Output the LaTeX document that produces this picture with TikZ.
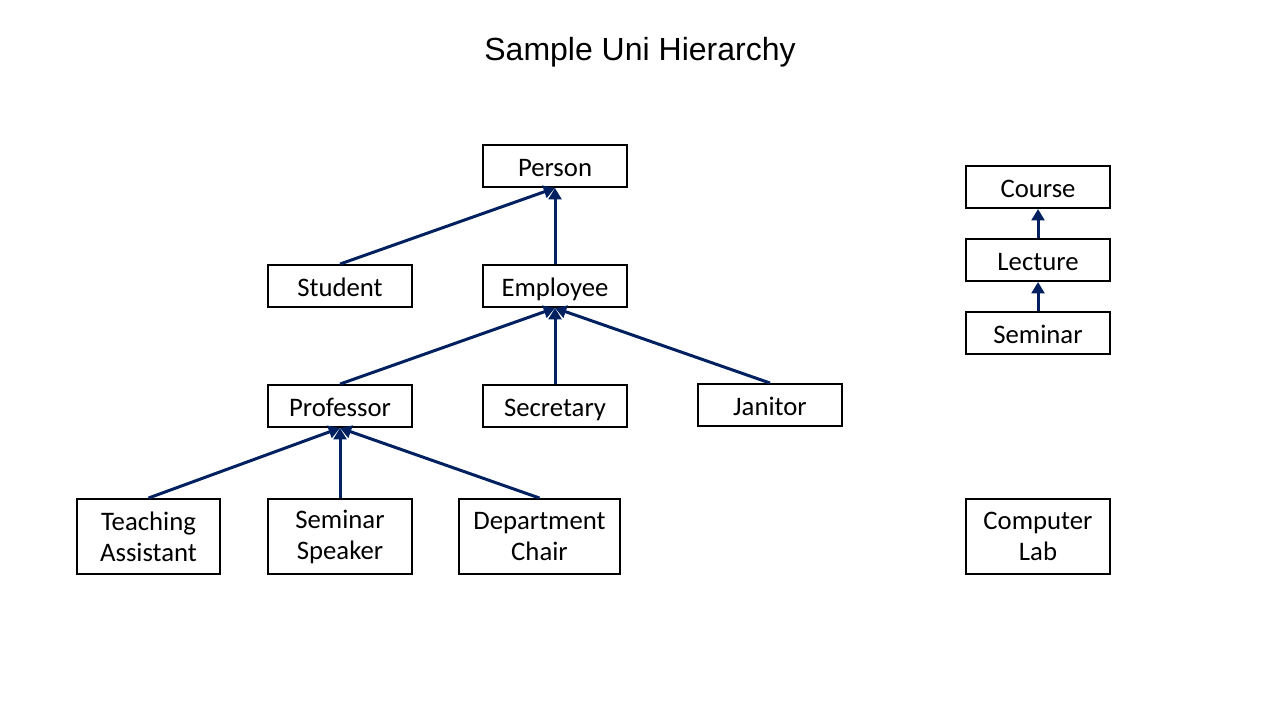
\documentclass[tikz,border=0pt]{standalone}
\usepackage{fontspec}
\setmainfont{Carlito}
\newfontfamily\titlefont{Liberation Sans}
\usetikzlibrary{arrows.meta,positioning}

\begin{document}
\begin{tikzpicture}[x=0.01cm, y=-0.01cm,
    every node/.style={font=\fontsize{7.6pt}{8.8pt}\selectfont},
    box/.style={draw, line width=0.55pt, minimum width=1.44cm, inner sep=0pt, align=center},
    cls/.style={box, minimum height=0.42cm, text height=1.5ex, text depth=0.3ex},
    tall/.style={box, minimum height=0.75cm},
    isa/.style={draw={rgb,255:red,0;green,32;blue,96}, line width=0.85pt, -{Triangle[length=3.2pt,width=3.6pt]}}]
  % Define dimensions
  \useasboundingbox (0,0) rectangle (1280,720);

  % Title
  \node (title) at (640,52) {\titlefont\fontsize{9.1pt}{11pt}\selectfont Sample Uni Hierarchy};

  % Draw classes
  \node[cls] (person) at (555,166) {Person};
  \node[cls] (student) at (340,286) {Student};
  \node[cls] (employee) at (555,286) {Employee};
  \node[cls] (professor) at (340,406) {Professor};
  \node[cls] (secretary) at (555,406) {Secretary};
  \node[cls] (janitor) at (770,405) {Janitor};
  \node[tall, minimum width=1.43cm] (ta) at (148.5,536.5) {Teaching\\Assistant};
  \node[tall] (speaker) at (340,536.5) {Seminar\\Speaker};
  \node[tall, minimum width=1.61cm] (chair) at (539.5,536.5) {Department\\Chair};

  \node[cls] (course) at (1038,187) {Course};
  \node[cls] (lecture) at (1038,260) {Lecture};
  \node[cls] (seminar) at (1038,333) {Seminar};
  \node[tall] (lab) at (1038,536.5) {Computer\\Lab};

  % Draw inheritance arrows
  \foreach \child/\parent in {student/person, employee/person,
                              professor/employee, secretary/employee, janitor/employee,
                              ta/professor, speaker/professor, chair/professor,
                              lecture/course, seminar/lecture}
      \draw[isa] (\child.north) -- (\parent.south);

\end{tikzpicture}
\end{document}
